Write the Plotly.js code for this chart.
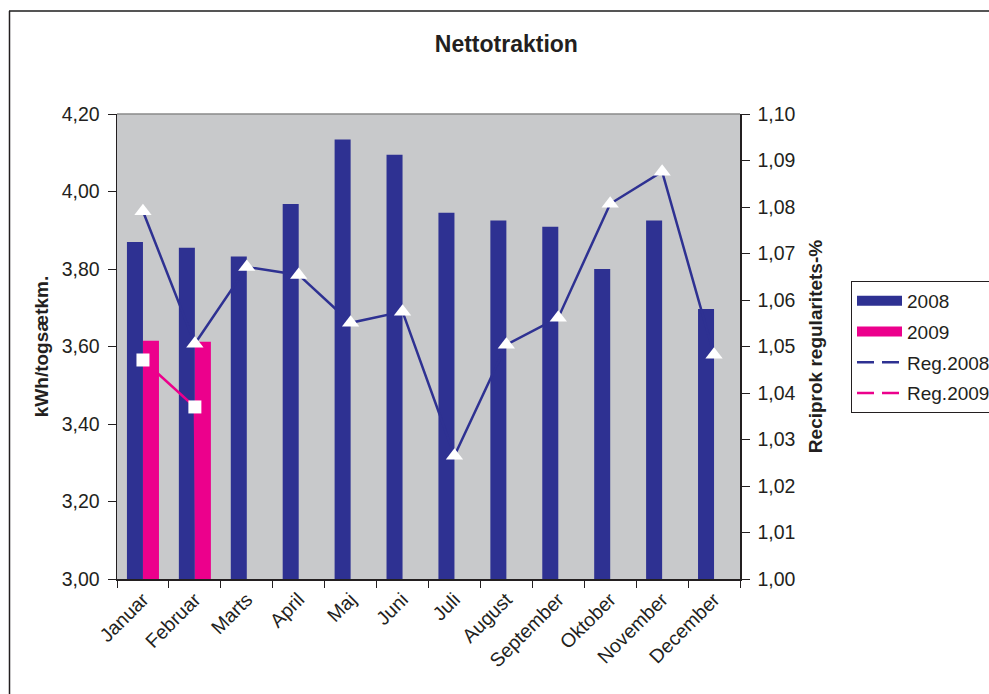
<!DOCTYPE html>
<html>
<head>
<meta charset="utf-8">
<script src="https://cdn.plot.ly/plotly-3.0.1.min.js"></script>
<style>html,body{margin:0;padding:0;background:#fff;}#chart{width:989px;height:694px;}</style>
</head>
<body>
<div id="chart"></div>
<script>
// ---- data ----
const months = ["Januar","Februar","Marts","April","Maj","Juni","Juli","August","September","Oktober","November","December"];
const net2008 = [3.870, 3.855, 3.832, 3.968, 4.134, 4.095, 3.945, 3.925, 3.909, 3.800, 3.925, 3.697];
const net2009 = [3.615, 3.612, null, null, null, null, null, null, null, null, null, null];
const reg2008 = [1.0791, 1.0506, 1.0671, 1.0654, 1.0551, 1.0575, 1.0265, 1.0504, 1.0562, 1.0807, 1.0876, 1.0482];
const reg2009 = [1.0471, 1.0370, 0, null, null, null, null, null, null, null, null, null];
const leftTicks = [3.0, 3.2, 3.4, 3.6, 3.8, 4.0, 4.2];
const rightTicks = [1.00, 1.01, 1.02, 1.03, 1.04, 1.05, 1.06, 1.07, 1.08, 1.09, 1.10];

// ---- style ----
const navy = "#2e3192";
const pink = "#ec008c";
const FONT = "Liberation Sans, Arial, Helvetica, sans-serif";
const W = 989, H = 694;
const M = {l: 117, r: 249, t: 114, b: 115};
const PW = W - M.l - M.r, PH = H - M.t - M.b;
const px = v => (v - M.l) / PW;
const py = v => (H - M.b - v) / PH;

const traces = [
  {type: "bar", name: "2008", x: months, y: net2008, marker: {color: navy}, showlegend: false, yaxis: "y"},
  {type: "bar", name: "2009", x: months, y: net2009, marker: {color: pink}, showlegend: false, yaxis: "y"},
  {type: "scatter", mode: "lines+markers", name: "Reg.2008", x: months, y: reg2008, yaxis: "y2",
   line: {color: navy, width: 2.5}, marker: {symbol: "triangle-up", size: 15, color: "#ffffff", line: {width: 0}},
   showlegend: false},
  {type: "scatter", mode: "lines+markers", name: "Reg.2009", x: months, y: reg2009, yaxis: "y2",
   line: {color: pink, width: 2.5}, marker: {symbol: "square", size: 13, color: "#ffffff", line: {width: 0}},
   showlegend: false},
  // legend entries
  {type: "scatter", mode: "lines", name: "2008", x: [null], y: [null], line: {color: navy, width: 13},
   legendgroup: "a", hoverinfo: "skip"},
  {type: "scatter", mode: "lines", name: "2009", x: [null], y: [null], line: {color: pink, width: 13},
   legendgroup: "b", hoverinfo: "skip"},
  {type: "scatter", mode: "lines", name: "Reg.2008", x: [null], y: [null], yaxis: "y2",
   line: {color: navy, width: 2.5, dash: "17px,8px"}, legendgroup: "c", hoverinfo: "skip"},
  {type: "scatter", mode: "lines", name: "Reg.2009", x: [null], y: [null], yaxis: "y2",
   line: {color: pink, width: 2.5, dash: "17px,8px"}, legendgroup: "d", hoverinfo: "skip"}
];

const tickFont = {family: FONT, size: 19.5, color: "#231f20"};
const layout = {
  width: W, height: H,
  margin: M,
  paper_bgcolor: "#ffffff",
  plot_bgcolor: "#c8c9cb",
  separators: ", ",
  barmode: "group",
  bargap: 0.383,
  bargroupgap: 0,
  font: {family: FONT, color: "#231f20"},
  title: {text: "<b>Nettotraktion</b>", x: 0.512, xref: "container", xanchor: "center",
          y: 1 - 44 / H, yref: "container", yanchor: "middle",
          font: {family: FONT, size: 23, color: "#231f20"}},
  xaxis: {type: "category", categoryarray: months, range: [-0.5, months.length - 0.5],
          tickson: "boundaries", ticks: "outside", ticklen: 7,
          tickcolor: "#231f20", tickwidth: 1, showline: true, linecolor: "#231f20", linewidth: 1.5,
          tickangle: -45, tickfont: tickFont, showgrid: false, zeroline: false, fixedrange: true},
  yaxis: {range: [3.0, 4.2], tickvals: leftTicks, tickformat: ".2f", ticks: "outside", ticklen: 8,
          tickcolor: "#231f20", showline: true, linecolor: "#231f20", linewidth: 1.5, showgrid: false,
          zeroline: false, tickfont: tickFont, ticklabelstandoff: 4,
          title: {text: "<b>kWh/togsætkm.</b>", font: {family: FONT, size: 19, color: "#231f20"}, standoff: 8}},
  yaxis2: {range: [1.0, 1.10], tickvals: rightTicks, tickformat: ".2f", overlaying: "y", side: "right",
           ticks: "outside", ticklen: 8, tickcolor: "#231f20", showline: true, linecolor: "#231f20",
           linewidth: 1.5, showgrid: false, zeroline: false, tickfont: tickFont, ticklabelstandoff: 4,
           title: {text: "<b>Reciprok regularitets-%</b>", font: {family: FONT, size: 19, color: "#231f20"}, standoff: 14}},
  legend: {xref: "container", yref: "container", x: 851 / W, y: 1 - 281 / H, xanchor: "left", yanchor: "top",
           bgcolor: "#ffffff", bordercolor: "#231f20", borderwidth: 1, traceorder: "grouped", tracegroupgap: 3,
           itemwidth: 45, font: {family: FONT, size: 19, color: "#231f20"}},
  shapes: [
    {type: "line", xref: "paper", yref: "paper", x0: 0, x1: 1, y0: 1, y1: 1, line: {color: "#8a8a8a", width: 1.5}},
    {type: "line", xref: "paper", yref: "paper", x0: px(9), x1: px(995), y0: py(11), y1: py(11), line: {color: "#555555", width: 2}},
    {type: "line", xref: "paper", yref: "paper", x0: px(9.5), x1: px(9.5), y0: py(11), y1: py(700), line: {color: "#231f20", width: 1.5}}
  ]
};

Plotly.newPlot("chart", traces, layout, {displayModeBar: false, staticPlot: true});
</script>
</body>
</html>
